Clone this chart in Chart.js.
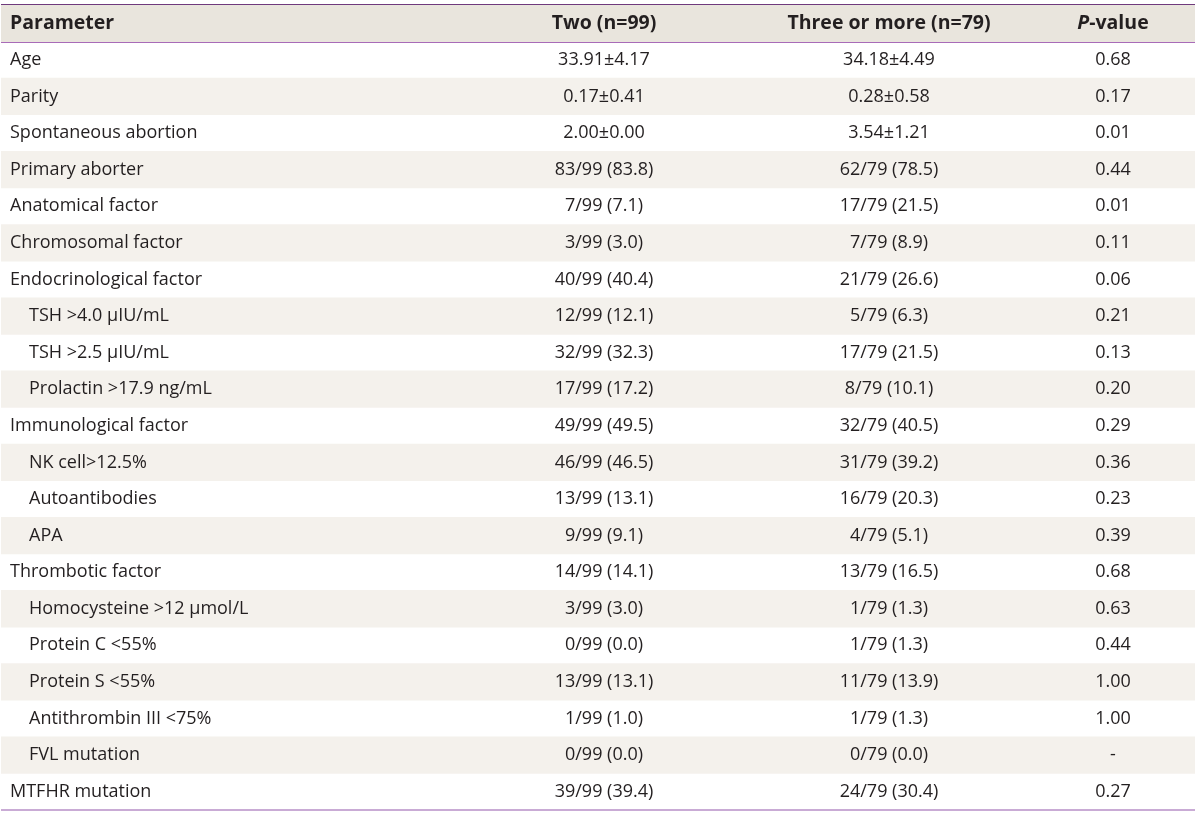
<!DOCTYPE html>
<html>
<head>
<meta charset="utf-8">
<script src="https://cdn.jsdelivr.net/npm/chart.js@4"></script>
<style>
html,body{margin:0;padding:0;background:#fff;}
#wrap{width:1200px;height:814px;position:relative;}
</style>
</head>
<body>
<div id="wrap"><canvas id="c"></canvas></div>
<script>
const headers = ['Parameter', 'Two (n=99)', 'Three or more (n=79)', 'P-value'];
const parameters = ['Age','Parity','Spontaneous abortion','Primary aborter','Anatomical factor','Chromosomal factor','Endocrinological factor','TSH >4.0 μIU/mL','TSH >2.5 μIU/mL','Prolactin >17.9 ng/mL','Immunological factor','NK cell>12.5%','Autoantibodies','APA','Thrombotic factor','Homocysteine >12 μmol/L','Protein C <55%','Protein S <55%','Antithrombin III <75%','FVL mutation','MTFHR mutation'];
const subItem = [false,false,false,false,false,false,false,true,true,true,false,true,true,true,false,true,true,true,true,true,false];
const twoGroup = ['33.91±4.17','0.17±0.41','2.00±0.00','83/99 (83.8)','7/99 (7.1)','3/99 (3.0)','40/99 (40.4)','12/99 (12.1)','32/99 (32.3)','17/99 (17.2)','49/99 (49.5)','46/99 (46.5)','13/99 (13.1)','9/99 (9.1)','14/99 (14.1)','3/99 (3.0)','0/99 (0.0)','13/99 (13.1)','1/99 (1.0)','0/99 (0.0)','39/99 (39.4)'];
const threeGroup = ['34.18±4.49','0.28±0.58','3.54±1.21','62/79 (78.5)','17/79 (21.5)','7/79 (8.9)','21/79 (26.6)','5/79 (6.3)','17/79 (21.5)','8/79 (10.1)','32/79 (40.5)','31/79 (39.2)','16/79 (20.3)','4/79 (5.1)','13/79 (16.5)','1/79 (1.3)','1/79 (1.3)','11/79 (13.9)','1/79 (1.3)','0/79 (0.0)','24/79 (30.4)'];
const pValues = ['0.68','0.17','0.01','0.44','0.01','0.11','0.06','0.21','0.13','0.20','0.29','0.36','0.23','0.39','0.68','0.63','0.44','1.00','1.00','-','0.27'];

const X_MAX = 1194;
const COL = { param: 9, sub: 28, two: 603, three: 888, p: 1112 };
const FONT = '"Open Sans", sans-serif';
const TEXT = '#231f20';
const HEAD_FONT = 'bold 19.5px ' + FONT;
const HEAD_FONT_I = 'italic bold 19.5px ' + FONT;
const BODY_FONT = '18px ' + FONT;
const rows = ['header'].concat(parameters);

const tableText = {
  id: 'tableText',
  afterDatasetsDraw(chart) {
    const ctx = chart.ctx, xs = chart.scales.x, ys = chart.scales.y;
    ctx.save();
    ctx.fillStyle = TEXT;
    ctx.textBaseline = 'middle';
    const y0 = ys.getPixelForValue(0);
    ctx.font = HEAD_FONT;
    ctx.textAlign = 'left';
    ctx.fillText(headers[0], xs.getPixelForValue(COL.param), y0);
    ctx.textAlign = 'center';
    ctx.fillText(headers[1], xs.getPixelForValue(COL.two), y0);
    ctx.fillText(headers[2], xs.getPixelForValue(COL.three), y0);
    const pPart = headers[3].slice(0, 1), rest = headers[3].slice(1);
    ctx.font = HEAD_FONT_I;
    const wP = ctx.measureText(pPart).width;
    ctx.font = HEAD_FONT;
    const wR = ctx.measureText(rest).width;
    const startX = xs.getPixelForValue(COL.p) - (wP + wR) / 2;
    ctx.textAlign = 'left';
    ctx.font = HEAD_FONT_I;
    ctx.fillText(pPart, startX, y0);
    ctx.font = HEAD_FONT;
    ctx.fillText(rest, startX + wP, y0);

    ctx.font = BODY_FONT;
    for (let i = 0; i < parameters.length; i++) {
      const y = ys.getPixelForValue(i + 1);
      ctx.textAlign = 'left';
      ctx.fillText(parameters[i], xs.getPixelForValue(subItem[i] ? COL.sub : COL.param), y);
      ctx.textAlign = 'center';
      ctx.fillText(twoGroup[i], xs.getPixelForValue(COL.two), y);
      ctx.fillText(threeGroup[i], xs.getPixelForValue(COL.three), y);
      ctx.fillText(pValues[i], xs.getPixelForValue(COL.p), y);
    }
    ctx.restore();
  }
};

const lineColor = (c) => {
  if (c.type === 'scale' || c.index === undefined) return '#c9abd5';
  if (c.index === 0) return '#6f3a7d';
  if (c.index === 1) return '#a86bb8';
  return 'rgba(0,0,0,0)';
};
const lineWidth = (c) => {
  if (c.type === 'scale' || c.index === undefined) return 2;
  return (c.index === 0 || c.index === 1) ? 2 : 0;
};

new Chart(document.getElementById('c'), {
  type: 'bar',
  data: {
    labels: rows,
    datasets: [{
      data: rows.map(() => X_MAX),
      backgroundColor: rows.map((r, i) => i === 0 ? '#e9e5dd' : (i % 2 === 0 ? '#f4f1ec' : 'rgba(0,0,0,0)')),
      borderWidth: 0,
      barPercentage: 1,
      categoryPercentage: 1
    }]
  },
  options: {
    indexAxis: 'y',
    responsive: true,
    maintainAspectRatio: false,
    animation: false,
    layout: { padding: { left: 1, right: 5, top: 5, bottom: 4 } },
    plugins: { legend: { display: false }, tooltip: { enabled: false } },
    scales: {
      x: { type: 'linear', min: 0, max: X_MAX, display: false },
      y: {
        type: 'category',
        offset: true,
        ticks: { display: false },
        border: { display: false },
        grid: { offset: true, drawTicks: false, color: lineColor, lineWidth: lineWidth }
      }
    }
  },
  plugins: [tableText]
});
</script>
</body>
</html>
